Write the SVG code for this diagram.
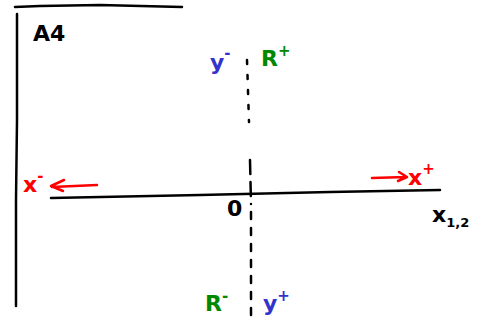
<svg xmlns="http://www.w3.org/2000/svg" width="482" height="324" viewBox="0 0 482 324">
<style>
.ln{fill:none;stroke:#000;stroke-width:2.5;stroke-linecap:round;stroke-linejoin:round}
.red{fill:none;stroke:#f00;stroke-width:2.5;stroke-linecap:round;stroke-linejoin:round}
.dash{fill:none;stroke:#000;stroke-width:2.5;stroke-linecap:round}
.t{font-family:"DejaVu Sans",sans-serif;font-size:22px;font-weight:bold}
.k{fill:#000}.r{fill:#f00}.b{fill:#33c}.g{fill:#080}
.sup{font-size:15px}
.sub{font-size:13px}
</style>
<rect width="482" height="324" fill="#fff"/>
<g id="frame">
<path class="ln" d="M15 7 L40 6 L100 5 L182 7"/>
<path class="ln" d="M17 14 L17 120 L16 200 L16 306"/>
<text class="t k" x="33" y="41" font-size="18">A4</text>
</g>
<g id="connectors">
<path class="ln" d="M51 198 L200 195 L330 192 L440 190"/>
<path class="dash" stroke-dasharray="4 11" d="M247 60 L249 122"/>
<path class="dash" stroke-dasharray="14 8" d="M250 160 L251 204"/>
<path class="dash" stroke-dasharray="7 9" d="M251 212 L251 316"/>
<path class="red" d="M97 185 L52 187 M64 180 L51 186 L63 191"/>
<path class="red" d="M372 178 L406 177 M399 172 L407 177 L398 181"/>
</g>
<g id="x-minus"><text class="t r" x="23" y="192">x<tspan class="sup" dy="-11">-</tspan></text></g>
<g id="x-plus"><text class="t r" x="408" y="185">x<tspan class="sup" dy="-11">+</tspan></text></g>
<g id="x12"><text class="t k" x="432" y="222">x<tspan class="sub" dy="5">1,2</tspan></text></g>
<g id="origin"><text class="t k" x="227" y="216" font-size="17">0</text></g>
<g id="y-minus"><text class="t b" x="210" y="70">y<tspan class="sup" dy="-12">-</tspan></text></g>
<g id="R-plus"><text class="t g" x="261" y="66">R<tspan class="sup" dy="-10">+</tspan></text></g>
<g id="R-minus"><text class="t g" x="205" y="311">R<tspan class="sup" dy="-10">-</tspan></text></g>
<g id="y-plus"><text class="t b" x="263" y="311">y<tspan class="sup" dy="-10">+</tspan></text></g>
</svg>
